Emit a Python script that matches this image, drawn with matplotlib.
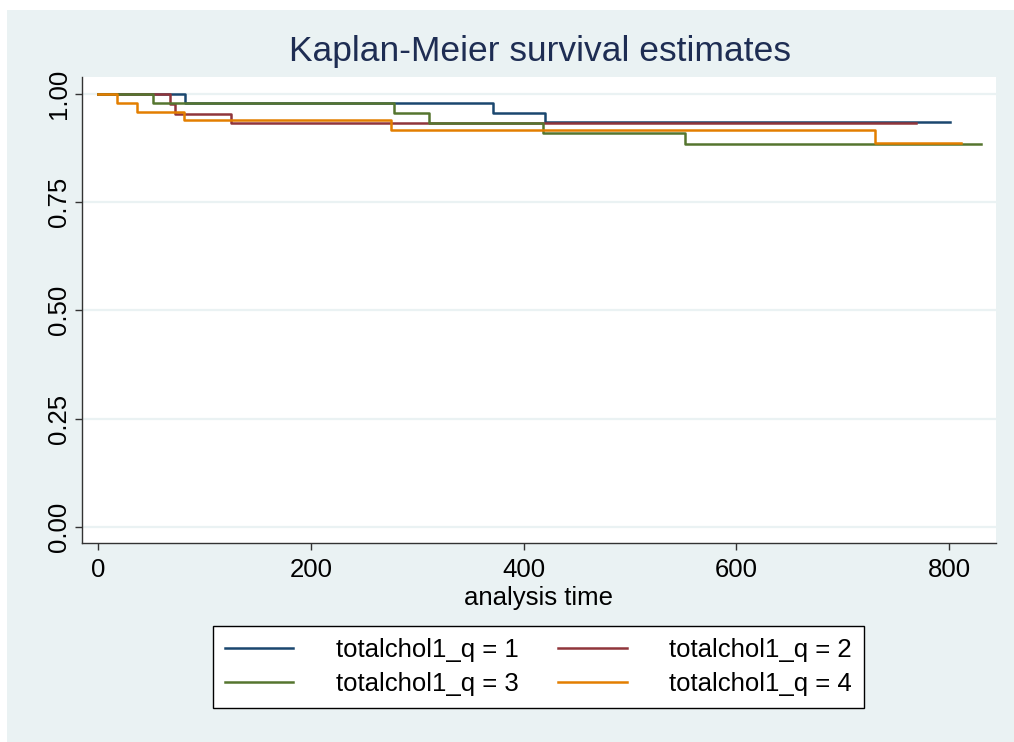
import matplotlib.pyplot as plt
from matplotlib.patches import Rectangle

plt.rcParams['font.family'] = ['Liberation Sans', 'DejaVu Sans']

# Kaplan-Meier step estimates per quartile: event times and survival after each drop
q1_time = [0, 82, 371, 420]
q1_surv = [1.0, 0.979, 0.956, 0.934]
q1_end = 801

q2_time = [0, 68, 72, 125]
q2_surv = [1.0, 0.976, 0.954, 0.933]
q2_end = 769

q3_time = [0, 52, 278, 311, 418, 552]
q3_surv = [1.0, 0.979, 0.955, 0.933, 0.909, 0.884]
q3_end = 830

q4_time = [0, 18, 37, 81, 275, 730]
q4_surv = [1.0, 0.979, 0.958, 0.938, 0.917, 0.885]
q4_end = 811

labels = ["totalchol1_q = 1", "totalchol1_q = 2", "totalchol1_q = 3", "totalchol1_q = 4"]
colors = ["#1a476f", "#90353b", "#55752f", "#e37e00"]

xticks = [0, 200, 400, 600, 800]
yticks = [0.0, 0.25, 0.5, 0.75, 1.0]
ytick_labels = ["0.00", "0.25", "0.50", "0.75", "1.00"]

bg = "#eaf2f3"
fs = 18.5

fig = plt.figure(figsize=(10.14, 7.42), dpi=100, facecolor="white")
fig.patches.append(Rectangle((7 / 1014, 0), 1, 1 - 10 / 742, transform=fig.transFigure,
                             facecolor=bg, edgecolor="none", zorder=-10))

ax = fig.add_axes([82 / 1014, 1 - 543 / 742, 914 / 1014, 466.3 / 742])
ax.set_facecolor("white")

for yt in yticks:
    ax.axhline(yt, color=bg, lw=1.6, zorder=0)

groups = [(q1_time, q1_surv, q1_end), (q2_time, q2_surv, q2_end),
          (q3_time, q3_surv, q3_end), (q4_time, q4_surv, q4_end)]
lines = []
for (t, s, end), c, lab in zip(groups, colors, labels):
    ln, = ax.step(t + [end], s + [s[-1]], where="post", color=c, lw=1.8, label=lab)
    lines.append(ln)

ax.set_xlim(-15, 844)
ax.set_ylim(-0.037, 1.039)
ax.set_xticks(xticks)
ax.set_yticks(yticks)
ax.set_yticklabels(ytick_labels)

for side in ["top", "right"]:
    ax.spines[side].set_visible(False)
for side in ["left", "bottom"]:
    ax.spines[side].set_color("#333333")
    ax.spines[side].set_linewidth(1.0)

ax.tick_params(axis="both", direction="out", length=5, width=1.0, color="#333333",
               labelsize=fs)
ax.tick_params(axis="y", labelrotation=90, pad=3)
ax.tick_params(axis="x", pad=6)
for lbl in ax.get_yticklabels():
    lbl.set_va("center")

ax.set_xlabel("analysis time", fontsize=fs, labelpad=3)
fig.text(0.533, 1 - 52 / 742, "Kaplan-Meier survival estimates", fontsize=25.5,
         color="#1e2d53", ha="center", va="center")

# two columns filled row by row: 1 2 / 3 4
order = [0, 2, 1, 3]
leg = fig.legend([lines[i] for i in order], [labels[i] for i in order],
                 loc="center", bbox_to_anchor=(538.5 / 1014, 1 - 667 / 742), ncol=2,
                 fontsize=fs, frameon=True, fancybox=False, edgecolor="black",
                 framealpha=1.0, facecolor="white",
                 handlelength=2.65, handletextpad=1.67, columnspacing=1.55,
                 borderpad=0.45, labelspacing=0.4)
leg.get_frame().set_linewidth(1.0)
for line in leg.get_lines():
    line.set_linewidth(1.8)

fig.savefig("out.png", dpi=100, facecolor="white")
